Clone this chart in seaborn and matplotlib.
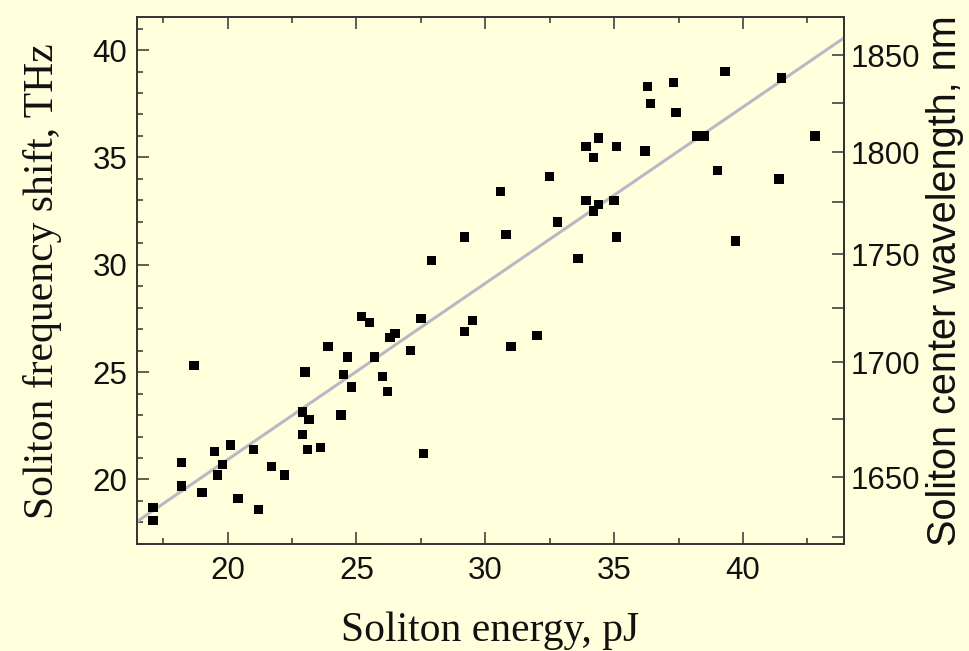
import numpy as np
import pandas as pd
import matplotlib
matplotlib.use("Agg")
import matplotlib.pyplot as plt
from matplotlib.ticker import MultipleLocator
from matplotlib import font_manager
import seaborn as sns

# ---- data ----
energy_pj = [17.1, 17.1, 18.2, 18.2, 18.7, 19.0, 19.5, 19.6, 19.8, 20.1,
             20.4, 21.0, 21.2, 21.7, 22.2, 22.9, 22.9, 23.0, 23.1, 23.15,
             23.6, 23.9, 24.4, 24.5, 24.65, 24.8, 25.2, 25.5, 25.7, 26.0,
             26.2, 26.3, 26.5, 27.1, 27.5, 27.6, 27.9, 29.2, 29.2, 29.5,
             30.6, 30.8, 31.0, 32.0, 32.5, 32.8, 33.6, 33.9, 33.9, 34.2,
             34.2, 34.4, 34.4, 35.0, 35.1, 35.1, 36.2, 36.3, 36.4, 37.3,
             37.4, 38.2, 38.5, 39.0, 39.3, 39.7, 41.4, 41.5, 42.8]
freq_shift_thz = [18.1, 18.7, 19.7, 20.8, 25.3, 19.4, 21.3, 20.2, 20.7, 21.6,
                  19.1, 21.4, 18.6, 20.6, 20.2, 23.15, 22.1, 25.0, 21.4, 22.8,
                  21.5, 26.2, 23.0, 24.9, 25.7, 24.3, 27.6, 27.3, 25.7, 24.8,
                  24.1, 26.6, 26.8, 26.0, 27.5, 21.2, 30.2, 26.9, 31.3, 27.4,
                  33.4, 31.4, 26.2, 26.7, 34.1, 32.0, 30.3, 33.0, 35.5, 32.5,
                  35.0, 32.8, 35.9, 33.0, 35.5, 31.3, 35.3, 38.3, 37.5, 38.5,
                  37.1, 36.0, 36.0, 34.4, 39.0, 31.1, 34.0, 38.7, 36.0]

x_ticks = [20, 25, 30, 35, 40]
y_ticks = [20, 25, 30, 35, 40]
wl_ticks = [1650, 1700, 1750, 1800, 1850]
base_freq_thz = 201.8          # reference optical frequency for the wavelength axis
c_nm_thz = 299792.458

df = pd.DataFrame({"energy": energy_pj, "shift": freq_shift_thz})

# ---- style ----
sns.set_theme(style="ticks")
bg = "#FFFFDC"
axis_col = "#333333"
plt.rcParams["font.family"] = ["Liberation Sans", "DejaVu Sans"]

installed = {f.name for f in font_manager.fontManager.ttflist}
if "Liberation Sans Narrow" in installed:
    tick_family, tick_size = "Liberation Sans Narrow", 23
else:
    tick_family, tick_size = "Liberation Sans", 22.5

fig = plt.figure(figsize=(9.7, 6.51), dpi=100, facecolor=bg)
ax = fig.add_axes([0.1412, 0.1636, 0.8701 - 0.1412, 0.9739 - 0.1636])
ax.set_facecolor(bg)

ax.set_xlim(16.48, 43.92)
ax.set_ylim(16.97, 41.54)

sns.regplot(data=df, x="energy", y="shift", ax=ax, scatter=False,
            ci=None, truncate=False,
            line_kws=dict(color="#B9B9C6", lw=2.2, zorder=2))
sns.scatterplot(data=df, x="energy", y="shift", ax=ax, marker="s",
                s=46, color="black", edgecolor="none", zorder=3)

ax.set_xlim(16.48, 43.92)
ax.set_ylim(16.97, 41.54)

ax.set_xticks(x_ticks)
ax.set_yticks(y_ticks)
ax.xaxis.set_minor_locator(MultipleLocator(2.5))
ax.yaxis.set_minor_locator(MultipleLocator(1))

for sp in ax.spines.values():
    sp.set_visible(True)
    sp.set_color(axis_col)
    sp.set_linewidth(1.4)

ax.tick_params(axis="x", which="both", direction="in", top=True, bottom=True,
               color=axis_col, width=1.1)
ax.tick_params(axis="y", which="both", direction="in", left=True, right=False,
               color=axis_col, width=1.1)
ax.tick_params(which="major", length=8.5)
ax.tick_params(which="minor", length=4.5)
ax.tick_params(axis="x", which="major", pad=8, labelsize=tick_size, labelcolor="#111111")
ax.tick_params(axis="y", which="major", pad=7, labelsize=tick_size, labelcolor="#111111")
for lab in ax.get_xticklabels() + ax.get_yticklabels():
    lab.set_family(tick_family)

ax.set_xlabel("Soliton energy, pJ", family=["Liberation Serif", "DejaVu Serif"],
              fontsize=30, color="#111111", labelpad=19)
ax.set_ylabel("Soliton frequency shift, THz", family=["Liberation Serif", "DejaVu Serif"],
              fontsize=30, color="#111111", labelpad=22)


def to_wl(s):
    s = np.asarray(s, dtype=float)
    return c_nm_thz / (base_freq_thz - s)


def to_shift(w):
    w = np.asarray(w, dtype=float)
    with np.errstate(divide="ignore"):
        return base_freq_thz - c_nm_thz / w


sec = ax.secondary_yaxis("right", functions=(to_wl, to_shift))
sec.set_yticks(wl_ticks)
sec.yaxis.set_minor_locator(MultipleLocator(25))
sec.tick_params(which="both", direction="in", color=axis_col, width=1.1)
sec.tick_params(which="major", length=8.5, pad=5, labelsize=tick_size, labelcolor="#111111")
sec.tick_params(which="minor", length=8.5)
for lab in sec.get_yticklabels():
    lab.set_family(tick_family)
sec.spines["right"].set_color(axis_col)
sec.spines["right"].set_linewidth(1.4)
sec.set_ylabel("Soliton center wavelength, nm", fontsize=28.5, color="#111111",
               labelpad=4)

fig.savefig("out.png", dpi=100, facecolor=bg)
